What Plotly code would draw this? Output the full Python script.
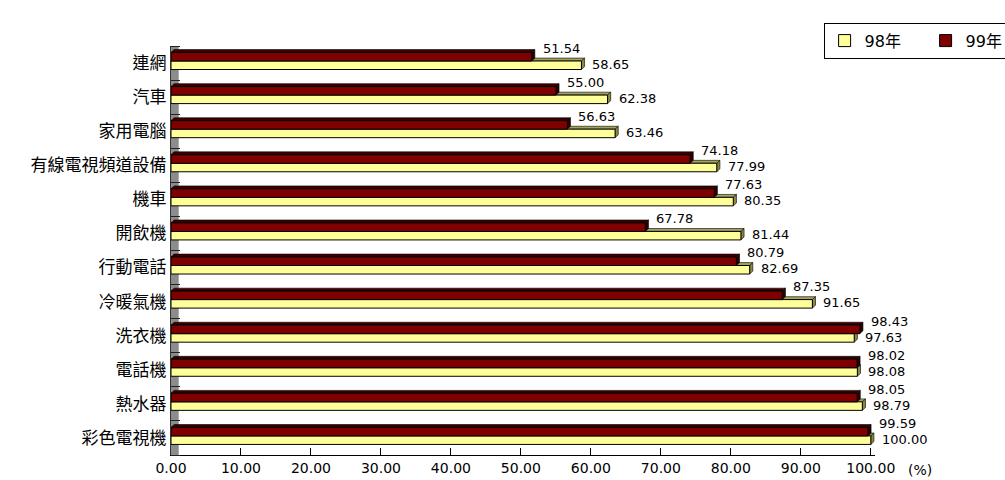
import plotly.graph_objects as go

# Household appliance ownership (%), listed bottom to top
categories = ["彩色電視機", "熱水器", "電話機", "洗衣機", "冷暖氣機", "行動電話",
              "開飲機", "機車", "有線電視頻道設備", "家用電腦", "汽車", "連網"]
values_98 = [100.00, 98.79, 98.08, 97.63, 91.65, 82.69, 81.44, 80.35, 77.99, 63.46, 62.38, 58.65]
values_99 = [99.59, 98.05, 98.02, 98.43, 87.35, 80.79, 67.78, 77.63, 74.18, 56.63, 55.00, 51.54]
series_names = ["98年", "99年"]
x_ticks = [0, 10, 20, 30, 40, 50, 60, 70, 80, 90, 100]

YELLOW = "#FFFF99"
DARK_RED = "#800000"
NUM_FONT = "DejaVu Sans"
CJK_FONT = "Noto Sans CJK TC"

ypos = list(range(len(categories)))
BAR_W = 0.25
DX = 0.45      # depth of the 3D faces along x (data units)
DY = 0.085     # depth of the 3D faces along y (category units)

fig = go.Figure()
fig.add_trace(go.Bar(
    y=ypos, x=values_98, name=series_names[0], orientation="h",
    base=0, offset=-0.19, width=BAR_W,
    marker=dict(color=YELLOW, line=dict(color="#000000", width=1)),
))
fig.add_trace(go.Bar(
    y=ypos, x=values_99, name=series_names[1], orientation="h",
    base=0, offset=0.06, width=BAR_W,
    marker=dict(color=DARK_RED, line=dict(color="#000000", width=1)),
))

shapes = []
# left wall of the 3D chart
shapes.append(dict(type="rect", xref="x", yref="y", x0=0, x1=1.1, y0=-0.5, y1=11.5,
                   fillcolor="#8c8c8c", line=dict(width=0), layer="below"))


def faces(v, y0, y1, top_col, side_col):
    top = (f"M 0,{y1} L {DX},{y1 + DY} L {v + DX},{y1 + DY} L {v},{y1} Z")
    side = (f"M {v},{y0} L {v},{y1} L {v + DX},{y1 + DY} L {v + DX},{y0 + DY} Z")
    return [
        dict(type="path", path=top, xref="x", yref="y", fillcolor=top_col,
             line=dict(color="#000000", width=0.6), layer="below"),
        dict(type="path", path=side, xref="x", yref="y", fillcolor=side_col,
             line=dict(color="#000000", width=0.6), layer="below"),
    ]


for i, (a, b) in enumerate(zip(values_98, values_99)):
    shapes += faces(a, i - 0.19, i - 0.19 + BAR_W, "#a3a35c", "#8a8a45")
    shapes += faces(b, i + 0.06, i + 0.06 + BAR_W, "#3a0000", "#2a0000")

annotations = []
for i, (a, b) in enumerate(zip(values_98, values_99)):
    annotations.append(dict(x=b, y=i + 0.43, xref="x", yref="y", text=f"{b:.2f}",
                            showarrow=False, xanchor="left", yanchor="middle", xshift=9,
                            font=dict(family=NUM_FONT, size=13, color="#000000")))
    annotations.append(dict(x=a, y=i - 0.04, xref="x", yref="y", text=f"{a:.2f}",
                            showarrow=False, xanchor="left", yanchor="middle", xshift=9,
                            font=dict(family=NUM_FONT, size=13, color="#000000")))
annotations.append(dict(x=100, y=0, xref="x", yref="paper", text="(%)", showarrow=False,
                        xanchor="left", yanchor="top", xshift=35, yshift=-5,
                        font=dict(family=NUM_FONT, size=14, color="#000000")))

fig.update_layout(
    width=1005, height=480,
    margin=dict(l=171, r=130, t=46, b=25, autoexpand=False),
    paper_bgcolor="#ffffff", plot_bgcolor="#ffffff",
    barmode="overlay",
    showlegend=True,
    legend=dict(orientation="h", x=0.927, y=1.057, xanchor="left", yanchor="top",
                bordercolor="#000000", borderwidth=1, bgcolor="#ffffff",
                font=dict(family=NUM_FONT + ", " + CJK_FONT, size=16, color="#000000"),
                itemwidth=30, entrywidth=56, traceorder="normal"),
    shapes=shapes,
    annotations=annotations,
    xaxis=dict(range=[0, 100.6], tickvals=x_ticks, ticktext=[f"{t:.2f}" for t in x_ticks],
               ticks="inside", ticklen=7, tickcolor="#000000", showline=True,
               linecolor="#000000", linewidth=1, showgrid=False, zeroline=False,
               tickfont=dict(family=NUM_FONT, size=14, color="#000000")),
    yaxis=dict(range=[-0.5, 11.5], tickvals=ypos, ticktext=categories, ticks="",
               showline=True, linecolor="#333333", linewidth=1, showgrid=False,
               zeroline=False,
               minor=dict(tickvals=[i - 0.5 for i in ypos] + [11.5], ticks="inside",
                          ticklen=9, tickcolor="#222222", tickwidth=1),
               tickfont=dict(family=CJK_FONT, size=17, color="#000000")),
)

fig.write_html("out.html")
